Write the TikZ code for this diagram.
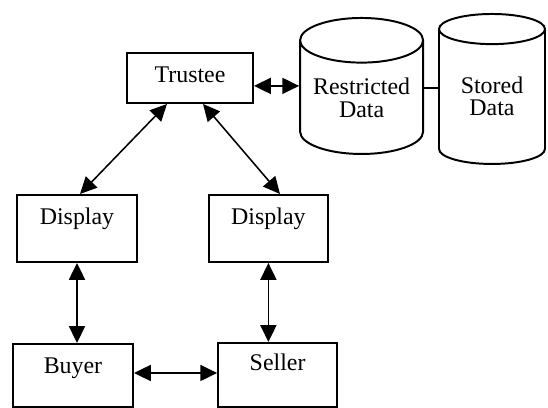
\documentclass[tikz,border=0pt]{standalone}
\usepackage{fontspec}
\setmainfont{Liberation Serif}
\usetikzlibrary{arrows.meta,positioning,shapes.geometric}

\begin{document}
\begin{tikzpicture}[every node/.style={font=\fontsize{17}{21}\selectfont},
    box/.style={draw,line width=1.4pt,inner xsep=0pt,inner ysep=0pt,anchor=north,text height=0.75cm},
    store/.style={draw,line width=1.4pt,cylinder,shape border rotate=90,aspect=0.42,align=center,
      anchor=north,text depth=0.2cm,font=\fontsize{17}{16}\selectfont},
    link/.style={line width=1.1pt,{Triangle[length=4.2mm,width=4mm]}-{Triangle[length=4.2mm,width=4mm]}}]
  \useasboundingbox (0,0) rectangle (13.7,10.2);
  % the boxes
  \node[box,minimum width=3.15cm,text depth=0.5cm] (trustee) at (4.75,8.9) {Trustee};
  \node[box,minimum width=3cm,text depth=0.925cm] (displ) at (1.925,5.35) {Display};
  \node[box,minimum width=2.975cm,text depth=0.925cm] (dispr) at (6.71,5.35) {Display};
  \node[box,minimum width=3cm,text depth=0.825cm] (buyer) at (1.825,1.625) {Buyer};
  \node[box,minimum width=2.975cm,text height=0.7cm,text depth=0.9cm] (seller) at (6.94,1.65) {Seller};
  % the two data stores
  \node[store,minimum width=3.075cm,minimum height=3.4cm] (restricted) at (9.04,9.775) {Restricted\\Data};
  \node[store,minimum width=2.65cm,minimum height=3.75cm] (stored) at (12.3,9.875) {Stored\\Data};
  % connections
  \draw[link] ([yshift=0.4cm]trustee.east |- restricted.west) -- ([yshift=0.4cm]restricted.west);
  \draw[line width=1.1pt] ([yshift=0.35cm]restricted.east) -- ([yshift=0.35cm]restricted.east -| stored.west);
  \draw[link] ([xshift=-0.575cm]trustee.south) -- ([xshift=0.075cm]displ.north);
  \draw[link] ([xshift=0.325cm]trustee.south) -- ([xshift=0.29cm]dispr.north);
  \draw[link] (displ.south) -- (displ.south |- buyer.north);
  \draw[link] (dispr.south) -- (dispr.south |- seller.north);
  \draw[link] ([yshift=-0.75cm]buyer.north east) -- ([yshift=-0.75cm]buyer.north east -| seller.west);
\end{tikzpicture}
\end{document}
